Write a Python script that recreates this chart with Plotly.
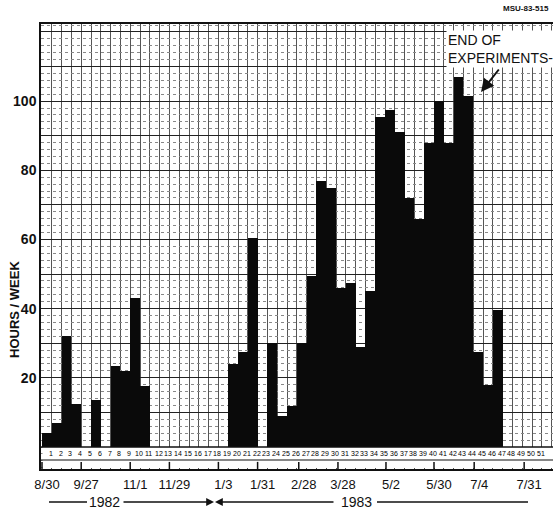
import plotly.graph_objects as go

# ---- data ----
weeks = list(range(1, 53))
hours = [4, 7, 32, 12.5, 0, 13.5, 0, 23.5, 22, 43,
         17.5, 0, 0, 0, 0, 0, 0, 0, 0, 24,
         27.5, 60.5, 0, 30, 9, 12, 30, 49.5, 77, 75,
         46, 47.5, 29, 45, 95.5, 97.5, 91, 72, 66, 88,
         100, 88, 107, 101.5, 27.5, 18, 39.5, 0, 0, 0,
         0, 0]
strip_numbers = list(range(1, 52))
date_labels = ["8/30", "9/27", "11/1", "11/29", "1/3", "1/31",
               "2/28", "3/28", "5/2", "5/30", "7/4", "7/31"]
date_weeks = [0.5, 4.5, 9.5, 13.5, 18.5, 22.5,
              26.7, 30.7, 35.6, 40.5, 44.6, 49.7]
y_ticks = [10, 20, 30, 40, 50, 60, 70, 80, 90, 100, 110, 120]
y_ticktext = ["", "20", "", "40", "", "60", "", "80", "", "100", "", ""]

W, H = 553, 509
L, R, T, B = 41, 0, 24, 40
PW, PH = W - L - R, H - T - B
Y0, Y1 = -6.36, 122.3


def px(x):
    return (x - L) / PW


def py(y):
    return (H - B - y) / PH


FONT = "Liberation Sans, Arial, sans-serif"

fig = go.Figure()
fig.add_trace(go.Bar(x=weeks, y=hours, width=1.0,
                     marker=dict(color="#0a0a0a", line=dict(width=0)),
                     showlegend=False))

annotations = []
# number strip under the bars (week numbers)
for w in strip_numbers:
    annotations.append(dict(x=w + 0.4, y=-1.85, text=str(w), showarrow=False,
                            xanchor="center", yanchor="middle",
                            font=dict(size=7, color="#000", family=FONT),
                            xref="x", yref="y"))

shapes = [
    dict(type="rect", xref="paper", yref="y", x0=0.003, x1=1, y0=-6.05, y1=0,
         fillcolor="white", line=dict(width=0), layer="above"),
    dict(type="line", xref="paper", yref="y", x0=0, x1=1, y0=0, y1=0,
         line=dict(color="#111", width=1.3), layer="above"),
    dict(type="line", xref="paper", yref="y", x0=0, x1=1, y0=-3.76, y1=-3.76,
         line=dict(color="#111", width=1.2), layer="above"),
    # year underline pieces
    dict(type="line", xref="paper", yref="paper", x0=px(49), x1=px(87),
         y0=py(502), y1=py(502), line=dict(color="#111", width=1.3)),
    dict(type="line", xref="paper", yref="paper", x0=px(377), x1=px(528),
         y0=py(502), y1=py(502), line=dict(color="#111", width=1.3)),
]
# bracket ticks at the date positions
for wk in date_weeks:
    shapes.append(dict(type="line", xref="x", yref="y", x0=wk, x1=wk,
                       y0=Y0, y1=-4.3, line=dict(color="#111", width=1.5),
                       layer="above"))

annotations += [
    dict(text="1982", x=px(104), y=py(502), xref="paper", yref="paper",
         xanchor="center", yanchor="middle",
         showarrow=False, font=dict(size=14, family=FONT, color="#111")),
    dict(text="1983", x=px(356), y=py(502), xref="paper", yref="paper",
         xanchor="center", yanchor="middle",
         showarrow=False, font=dict(size=14, family=FONT, color="#111")),
    dict(text="", x=px(214), y=py(502), xref="paper", yref="paper",
         ax=-92, ay=0, showarrow=True, arrowhead=2, arrowsize=1.2,
         arrowwidth=1.3, arrowcolor="#111"),
    dict(text="", x=px(215), y=py(502), xref="paper", yref="paper",
         ax=120, ay=0, showarrow=True, arrowhead=2, arrowsize=1.2,
         arrowwidth=1.3, arrowcolor="#111"),
    dict(text="HOURS / WEEK", x=px(14), y=py(310), xref="paper", yref="paper",
         xanchor="center", yanchor="middle",
         textangle=-90, showarrow=False,
         font=dict(size=13, family=FONT, color="#111", weight="bold")),
    dict(text="MSU-83-515", x=px(551), y=py(8), xref="paper", yref="paper",
         xanchor="right", yanchor="middle", showarrow=False,
         font=dict(size=8, family=FONT, color="#111", weight="bold")),
    dict(text="END OF<br>EXPERIMENTS-", x=px(446), y=py(49), xref="paper",
         yref="paper", xanchor="left", yanchor="middle", align="left",
         showarrow=False, bgcolor="white",
         font=dict(size=14, family=FONT, color="#111")),
    dict(text="", x=px(481), y=py(92), xref="paper", yref="paper",
         ax=19, ay=-24, showarrow=True, arrowhead=2, arrowsize=1.3,
         arrowwidth=2, arrowcolor="#111"),
]

fig.update_layout(
    width=W, height=H,
    margin=dict(l=L, r=R, t=T, b=B, pad=0),
    paper_bgcolor="white", plot_bgcolor="white",
    bargap=0, shapes=shapes, annotations=annotations,
    font=dict(family=FONT, color="#111"),
)

fig.update_xaxes(
    range=[0.398, 0.398 + PW / 9.8],
    tickvals=date_weeks, ticktext=date_labels,
    ticks="", ticklabelshift=5, ticklabelstandoff=3,
    tickfont=dict(size=13, family=FONT, color="#111"),
    showline=True, linecolor="#111", linewidth=1.5, mirror=True,
    showgrid=False, zeroline=False,
    minor=dict(tick0=0.5, dtick=1, showgrid=True, gridcolor="#555",
               gridwidth=1, ticks=""),
)
fig.update_yaxes(
    range=[Y0, Y1],
    tickvals=y_ticks, ticktext=y_ticktext, ticks="",
    tickfont=dict(size=14, family=FONT, color="#111", weight="bold"),
    showline=True, linecolor="#111", linewidth=1.5, mirror=False,
    showgrid=True, gridcolor="#222", gridwidth=1,
    zeroline=False,
    minor=dict(tick0=0, dtick=2, showgrid=True, gridcolor="#888",
               gridwidth=1, griddash="dot", ticks=""),
)

fig.write_html("out.html")
